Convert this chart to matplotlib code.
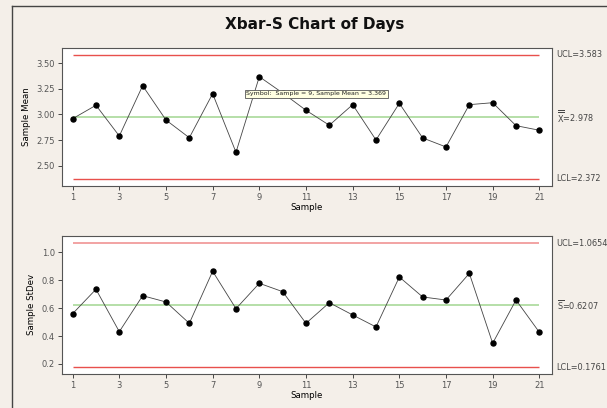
import numpy as np
import matplotlib
matplotlib.use("Agg")
import matplotlib.pyplot as plt
from matplotlib.lines import Line2D
from matplotlib.transforms import blended_transform_factory

# ------------------------------------------------------------
# dati
# ------------------------------------------------------------
samples = list(range(1, 22))
sample_mean = [2.959, 3.090, 2.790, 3.281, 2.946, 2.773, 3.203, 2.631, 3.369, 3.210,
               3.041, 2.895, 3.096, 2.751, 3.109, 2.771, 2.683, 3.096, 3.115, 2.891, 2.846]
sample_sd = [0.560, 0.735, 0.431, 0.689, 0.644, 0.491, 0.864, 0.596, 0.778, 0.718,
             0.491, 0.639, 0.551, 0.465, 0.823, 0.680, 0.658, 0.849, 0.348, 0.658, 0.427]

xbar_limits = {"UCL": 3.583, "CL": 2.978, "LCL": 2.372}
s_limits = {"UCL": 1.0654, "CL": 0.6207, "LCL": 0.1761}

xticks = list(range(1, 22, 2))
mean_yticks = [2.50, 2.75, 3.00, 3.25, 3.50]
sd_yticks = [0.2, 0.4, 0.6, 0.8, 1.0]

bg = "#F4EFE9"
red = "#E8504C"
green = "#A9D99A"
tick_col = "#555555"

fig = plt.figure(figsize=(6.07, 4.08), dpi=100, facecolor=bg)

# cornice esterna (solo sinistra e alto, il resto e' tagliato)
fig.add_artist(Line2D([0.0193, 0.0193], [0.0, 0.985], color="#444444", lw=1.0))
fig.add_artist(Line2D([0.0193, 1.0], [0.985, 0.985], color="#444444", lw=1.0))

fig.text(0.519, 0.941, "Xbar-S Chart of Days", ha="center", va="center",
         fontsize=11, fontweight="bold", color="#111111")

ax1 = fig.add_axes([0.1016, 0.5449, 0.8073, 0.3382])
ax2 = fig.add_axes([0.1016, 0.0841, 0.8073, 0.3375])


def style_axis(ax, yticks, fmt, ylabel, ylim):
    ax.set_facecolor("white")
    ax.set_xlim(0.53, 21.53)
    ax.set_ylim(*ylim)
    ax.set_xticks(xticks)
    ax.set_yticks(yticks)
    ax.set_yticklabels([fmt.format(v) for v in yticks])
    ax.tick_params(axis="both", direction="out", length=3, width=0.7,
                   colors="#444444", labelcolor=tick_col, labelsize=6, pad=2)
    for sp in ax.spines.values():
        sp.set_color("#555555")
        sp.set_linewidth(0.8)
    ax.set_xlabel("Sample", fontsize=6.2, labelpad=1)
    ax.set_ylabel(ylabel, fontsize=6.2, labelpad=4)


def control_chart(ax, values, limits, ucl_color, ucl_lw, labels):
    ax.hlines(limits["UCL"], samples[0], samples[-1], color=ucl_color, lw=ucl_lw, zorder=1)
    ax.hlines(limits["CL"], samples[0], samples[-1], color=green, lw=1.2, zorder=1)
    ax.hlines(limits["LCL"], samples[0], samples[-1], color=red, lw=1.0, zorder=1)
    ax.plot(samples, values, color="#444444", lw=0.6, marker="o", markersize=3.6,
            markerfacecolor="black", markeredgecolor="black", zorder=2)
    tr = blended_transform_factory(ax.transAxes, ax.transData)
    for key, txt in labels:
        ax.text(1.0102, limits[key], txt, transform=tr, ha="left", va="center",
                fontsize=5.9, color="#444444", clip_on=False)


style_axis(ax1, mean_yticks, "{:.2f}", "Sample Mean", (2.305, 3.652))
control_chart(ax1, sample_mean, xbar_limits, red, 1.0,
              [("UCL", "UCL=3.583"),
               ("CL", r"$\overline{\overline{\mathrm{X}}}$=2.978"),
               ("LCL", "LCL=2.372")])

# tooltip di Minitab
ax1.text(8.45, 3.20, "Symbol:  Sample = 9, Sample Mean = 3.369", ha="left", va="center",
         fontsize=4.5, color="#222222", zorder=5,
         bbox=dict(boxstyle="square,pad=0.3", facecolor="#FFFFE1", edgecolor="#555555", lw=0.6))

style_axis(ax2, sd_yticks, "{:.1f}", "Sample StDev", (0.130, 1.117))
control_chart(ax2, sample_sd, s_limits, "#F2A3A3", 1.4,
              [("UCL", "UCL=1.0654"),
               ("CL", r"$\overline{\mathrm{S}}$=0.6207"),
               ("LCL", "LCL=0.1761")])

fig.savefig("out.png", dpi=100, facecolor=bg)
